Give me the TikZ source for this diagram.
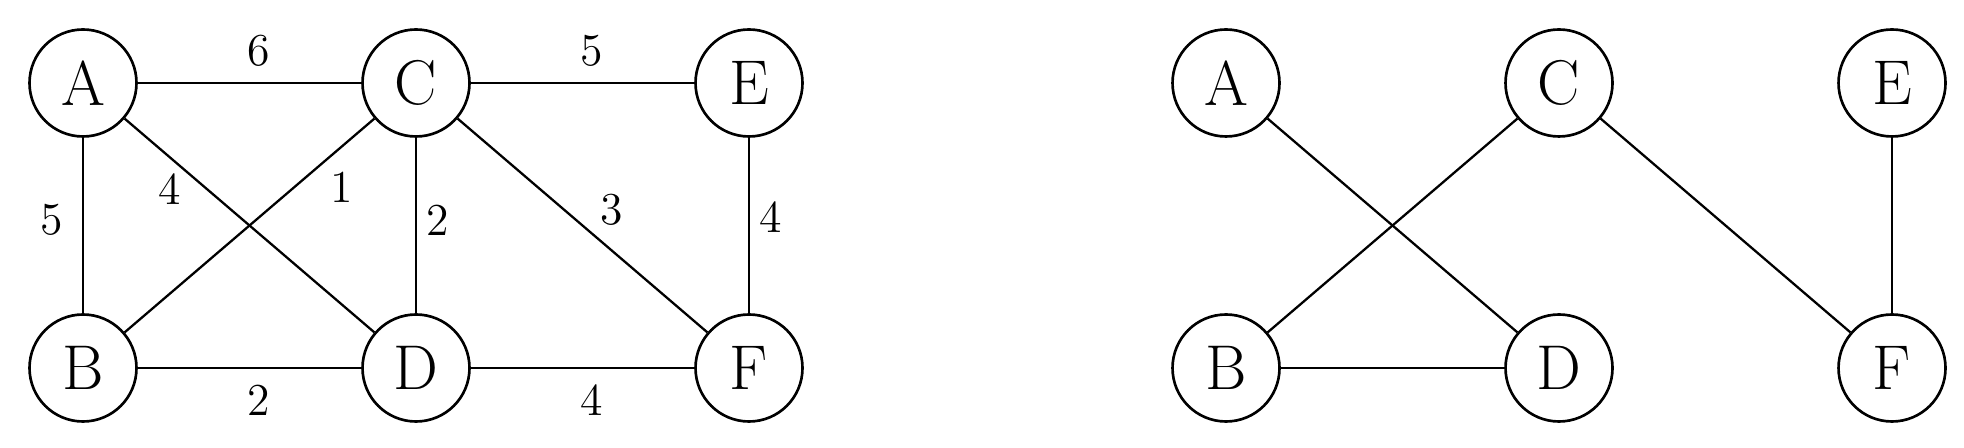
\documentclass[tikz,border=0pt]{standalone}
\usetikzlibrary{positioning}

\begin{document}
\begin{tikzpicture}[
		line width=0.65pt,
		node distance=2.85cm and 3.33cm,
		on grid,
		vertex/.style={
			draw,
			circle,
			line width=0.75pt,
			minimum size=1.07cm,
			inner sep=0pt,
			font=\fontsize{18}{20}\selectfont
		},
		weight/.style={
			font=\fontsize{13}{15}\selectfont,
			inner sep=4.5pt
		}
		]
		
		\useasboundingbox (0,0) rectangle (19.64,4.48);
		
		%--------------------------------------------------
		% Weighted graph
		%--------------------------------------------------
		
		\node[vertex] (a) at (0.83,3.65) {A};
		\node[vertex] (c) [right=of a] {C};
		\node[vertex] (e) [right=of c] {E};
		\node[vertex] (b) [below=of a] {B};
		\node[vertex] (d) [right=of b] {D};
		\node[vertex] (f) [right=of d] {F};
		
		\draw (a) -- node[weight,pos=0.54,above]{6} (c);
		\draw (c) -- node[weight,pos=0.54,above]{5} (e);
		\draw (b) -- node[weight,pos=0.54,below]{2} (d);
		\draw (d) -- node[weight,pos=0.54,below]{4} (f);
		
		\draw (a) -- node[weight,pos=0.47,left,inner sep=5.5pt]{5} (b);
		\draw (c) -- node[weight,pos=0.47,right,inner sep=2.6pt]{2} (d);
		\draw (e) -- node[weight,pos=0.45,right,inner sep=2.8pt]{4} (f);
		
		\draw (a) -- node[weight,pos=0.24,below left,inner sep=0.8pt]{4} (d);
		\draw (c) -- node[weight,pos=0.21,below right,inner sep=2pt]{1} (b);
		\draw (c) -- node[weight,pos=0.54,above right,inner sep=2pt]{3} (f);
		
		%--------------------------------------------------
		% Spanning tree
		%--------------------------------------------------
		
		\node[vertex] (ta) at (12.26,3.65) {A};
		\node[vertex] (tc) [right=of ta] {C};
		\node[vertex] (te) [right=of tc] {E};
		\node[vertex] (tb) [below=of ta] {B};
		\node[vertex] (td) [right=of tb] {D};
		\node[vertex] (tf) [right=of td] {F};
		
		\foreach \u/\v in {ta/td,tc/tb,tc/tf,te/tf,tb/td}
		{
			\draw (\u) -- (\v);
		}
		
	\end{tikzpicture}
\end{document}
